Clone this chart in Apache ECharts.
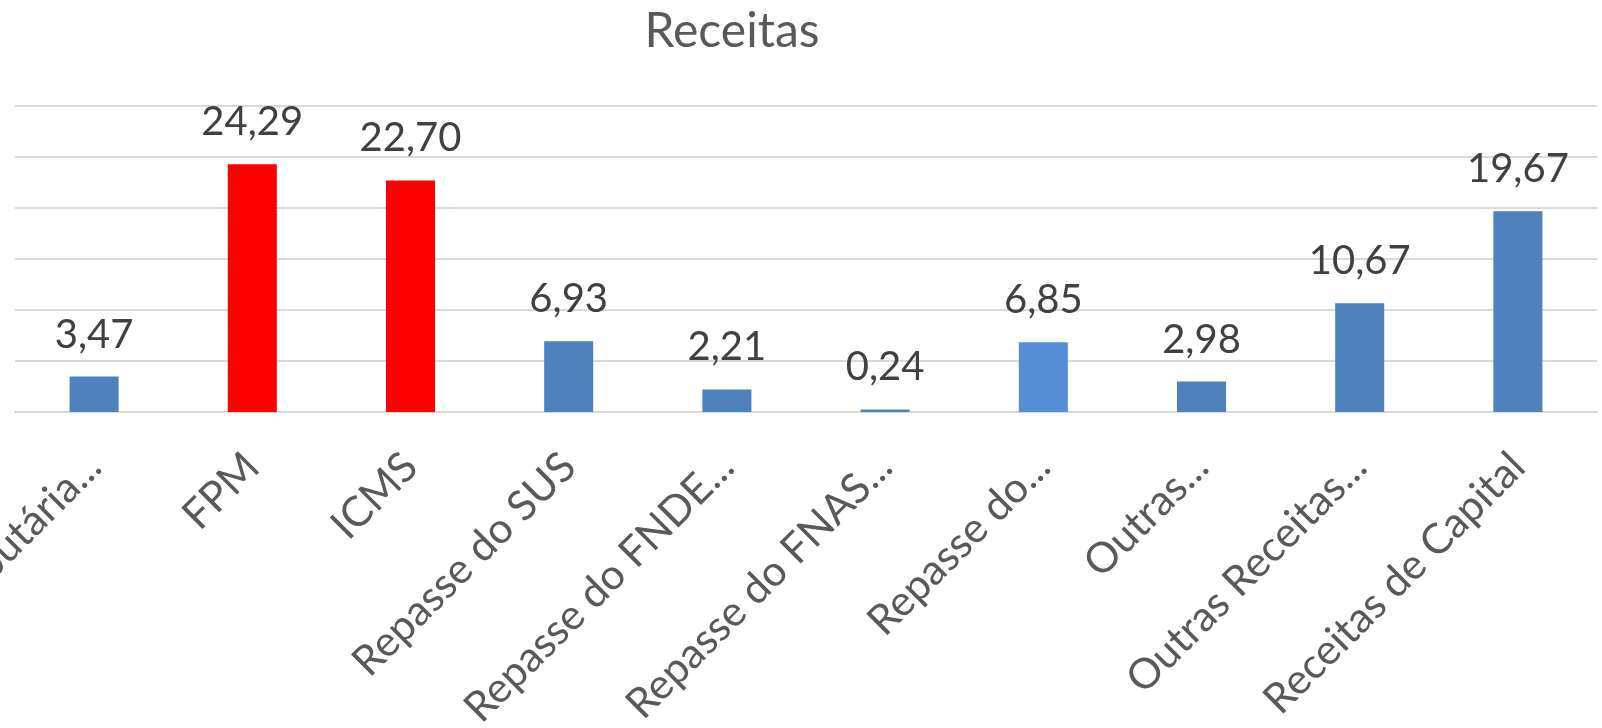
<!DOCTYPE html>
<html>
<head>
<meta charset="utf-8">
<script src="https://cdn.jsdelivr.net/npm/echarts@6/dist/echarts.min.js"></script>
<style>
html,body{margin:0;padding:0;background:#fff;}
#chart{width:1602px;height:728px;}
</style>
</head>
<body>
<div id="chart"></div>
<script>
const categories = ["Receita Tributária...", "FPM", "ICMS", "Repasse do SUS", "Repasse do FNDE...", "Repasse do FNAS...", "Repasse do...", "Outras...", "Outras Receitas...", "Receitas de Capital"];
const values = [3.47, 24.29, 22.70, 6.93, 2.21, 0.24, 6.85, 2.98, 10.67, 19.67];
const barColors = ["#4F81BD", "#FF0000", "#FF0000", "#4F81BD", "#4F81BD", "#4F81BD", "#558ED5", "#4F81BD", "#4F81BD", "#4F81BD"];
const yTicks = [0, 5, 10, 15, 20, 25, 30];

const chart = echarts.init(document.getElementById('chart'), null, {renderer: 'canvas'});
const FONT = 'Lato';
chart.setOption({
  backgroundColor: '#ffffff',
  animation: false,
  title: {
    text: 'Receitas',
    left: 727,
    textAlign: 'center',
    top: 3,
    textStyle: {fontFamily: FONT, fontSize: 48, fontWeight: 'normal', color: '#595959'}
  },
  grid: {left: 15, right: 5, top: 106, bottom: 316, containLabel: false, outerBoundsMode: 'none'},
  xAxis: {
    type: 'category',
    data: categories,
    axisLine: {show: true, lineStyle: {color: '#D9D9D9', width: 2}},
    axisTick: {show: false},
    axisLabel: {
      interval: 0,
      rotate: 45,
      margin: 48,
      fontFamily: FONT,
      fontSize: 42,
      color: '#595959',
      hideOverlap: false
    }
  },
  yAxis: {
    type: 'value',
    min: yTicks[0],
    max: yTicks[yTicks.length - 1],
    interval: yTicks[1] - yTicks[0],
    axisLine: {show: false},
    axisTick: {show: false},
    axisLabel: {show: false},
    splitLine: {show: true, lineStyle: {color: '#D9D9D9', width: 2}}
  },
  series: [{
    type: 'bar',
    data: values.map((v, i) => ({value: v, itemStyle: {color: barColors[i]}})),
    barWidth: '31%',
    label: {
      show: true,
      position: 'top',
      distance: 22,
      fontFamily: FONT,
      fontSize: 40,
      color: '#404040',
      formatter: p => p.value.toFixed(2).replace('.', ',')
    }
  }]
});
</script>
</body>
</html>
